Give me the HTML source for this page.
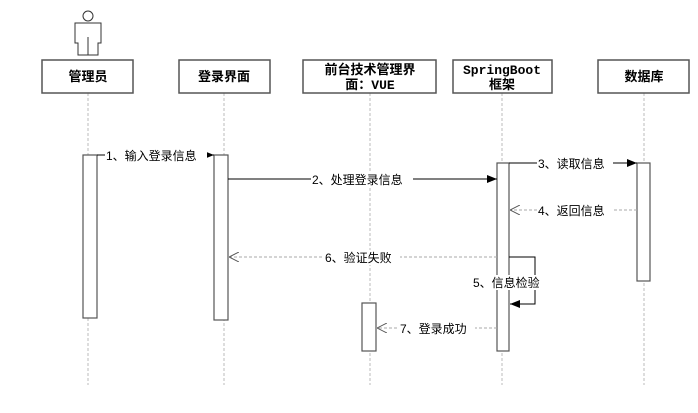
<!DOCTYPE html>
<html><head><meta charset="utf-8"><style>
body{margin:0;background:#fff}
svg text{font-family:"Liberation Sans","Noto Sans CJK SC",sans-serif;font-size:12px;fill:#000}
.b{font-family:"Liberation Mono","Noto Sans CJK SC",monospace;font-weight:bold;font-size:13px}
</style></head><body>
<svg width="698" height="408" xmlns="http://www.w3.org/2000/svg">
<defs>
<marker id="f" markerWidth="10" markerHeight="8" refX="10" refY="4" orient="auto" markerUnits="userSpaceOnUse"><path d="M0,0L10,4L0,8z" fill="#000"/></marker>
<marker id="o" markerWidth="10" markerHeight="10" refX="10" refY="5" orient="auto" markerUnits="userSpaceOnUse"><path d="M0,0L10,5L0,10" fill="none" stroke="#555" stroke-width="1"/></marker>
</defs>
<g stroke="#bbb" stroke-dasharray="3,2" stroke-width="1">
<line x1="88" y1="93" x2="88" y2="385"/><line x1="224" y1="93" x2="224" y2="385"/>
<line x1="370" y1="93" x2="370" y2="385"/><line x1="502" y1="93" x2="502" y2="385"/>
<line x1="644" y1="93" x2="644" y2="385"/>
</g>
<g stroke="#333" fill="#fff" stroke-width="1">
<circle cx="88" cy="16" r="5"/>
<path d="M75,23h26v20h-3v12h-20v-12h-3z"/>
<line x1="88" y1="37" x2="88" y2="55"/>
</g>
<g stroke="#555" fill="#fff" stroke-width="1.5">
<rect x="42" y="60" width="91" height="33"/><rect x="179" y="60" width="91" height="33"/>
<rect x="303" y="60" width="133" height="33"/><rect x="453" y="60" width="99" height="33"/>
<rect x="598" y="60" width="91" height="33"/>
</g>
<text class="b" x="88" y="81" text-anchor="middle">管理员</text>
<text class="b" x="224" y="81" text-anchor="middle">登录界面</text>
<text class="b" x="370" y="74" text-anchor="middle">前台技术管理界</text>
<text class="b" x="370" y="89" text-anchor="middle">面：VUE</text>
<text class="b" x="502" y="74" text-anchor="middle">SpringBoot</text>
<text class="b" x="502" y="89" text-anchor="middle">框架</text>
<text class="b" x="644" y="81" text-anchor="middle">数据库</text>
<g stroke="#555" fill="#fff" stroke-width="1.2">
<rect x="83" y="155" width="14" height="163"/><rect x="214" y="155" width="14" height="165"/>
<rect x="362" y="303" width="14" height="48"/><rect x="497" y="163" width="12" height="188"/>
<rect x="637" y="163" width="13" height="118"/>
</g>
<g stroke="#000" stroke-width="1" fill="none">
<line x1="97" y1="155" x2="214" y2="155" marker-end="url(#f)"/>
<line x1="228" y1="179" x2="497" y2="179" marker-end="url(#f)"/>
<line x1="509" y1="163" x2="637" y2="163" marker-end="url(#f)"/>
<path d="M509,257H535V304H510" marker-end="url(#f)"/>
</g>
<g stroke="#aaa" stroke-width="1" stroke-dasharray="3,2" fill="none">
<line x1="637" y1="210" x2="510" y2="210" marker-end="url(#o)"/>
<line x1="497" y1="257" x2="229" y2="257" marker-end="url(#o)"/>
<line x1="497" y1="328" x2="377" y2="328" marker-end="url(#o)"/>
</g>
<g>
<rect x="105" y="148" width="102" height="15" fill="#fff"/><text x="106" y="160">1、输入登录信息</text>
<rect x="311" y="172" width="102" height="15" fill="#fff"/><text x="312" y="184">2、处理登录信息</text>
<rect x="537" y="156" width="76" height="15" fill="#fff"/><text x="538" y="168">3、读取信息</text>
<rect x="537" y="203" width="76" height="15" fill="#fff"/><text x="538" y="215">4、返回信息</text>
<rect x="324" y="250" width="76" height="15" fill="#fff"/><text x="325" y="262">6、验证失败</text>
<rect x="472" y="275" width="76" height="15" fill="#fff"/><text x="473" y="287">5、信息检验</text>
<rect x="399" y="321" width="76" height="15" fill="#fff"/><text x="400" y="333">7、登录成功</text>
</g>
</svg>
</body></html>
